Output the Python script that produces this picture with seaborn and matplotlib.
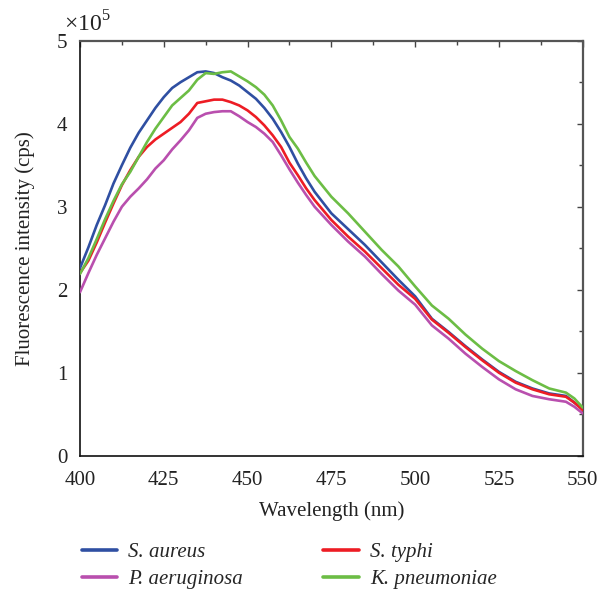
import numpy as np
import pandas as pd
import matplotlib
matplotlib.use("Agg")
import matplotlib.pyplot as plt
import seaborn as sns
from matplotlib.ticker import MultipleLocator
from matplotlib.lines import Line2D

# wavelength (nm)
wavelength = [400, 402.5, 405, 407.5, 410, 412.5, 415, 417.5, 420, 422.5, 425, 427.5,
              430, 432.5, 435, 437.5, 440, 442.5, 445, 447.5, 450, 452.5, 455, 457.5,
              460, 462.5, 465, 467.5, 470, 475, 480, 485, 490, 495, 500, 505, 510, 515,
              520, 525, 530, 535, 540, 545, 547.5, 550]

# fluorescence intensity (x10^5 cps)
s_aureus = [2.26, 2.51, 2.78, 3.02, 3.28, 3.50, 3.71, 3.89, 4.04, 4.19, 4.32, 4.43,
            4.50, 4.56, 4.62, 4.63, 4.61, 4.56, 4.52, 4.46, 4.38, 4.30, 4.19, 4.06,
            3.90, 3.72, 3.52, 3.34, 3.18, 2.92, 2.73, 2.54, 2.33, 2.12, 1.92, 1.65,
            1.49, 1.32, 1.16, 1.01, 0.89, 0.81, 0.75, 0.72, 0.64, 0.56]
p_aeruginosa = [1.97, 2.20, 2.42, 2.62, 2.82, 3.00, 3.12, 3.22, 3.33, 3.46, 3.56, 3.69,
                3.80, 3.92, 4.07, 4.12, 4.14, 4.15, 4.15, 4.09, 4.02, 3.96, 3.88, 3.78,
                3.62, 3.45, 3.29, 3.14, 3.00, 2.78, 2.58, 2.40, 2.19, 1.99, 1.82, 1.57,
                1.41, 1.23, 1.07, 0.92, 0.80, 0.72, 0.68, 0.65, 0.59, 0.51]
s_typhi = [2.20, 2.35, 2.57, 2.81, 3.04, 3.26, 3.44, 3.60, 3.72, 3.81, 3.88, 3.95,
           4.02, 4.12, 4.25, 4.27, 4.29, 4.29, 4.26, 4.22, 4.16, 4.08, 3.98, 3.86,
           3.72, 3.53, 3.38, 3.22, 3.08, 2.84, 2.64, 2.46, 2.26, 2.06, 1.89, 1.64,
           1.48, 1.31, 1.15, 1.00, 0.88, 0.80, 0.74, 0.71, 0.64, 0.55]
k_pneumoniae = [2.19, 2.38, 2.61, 2.85, 3.07, 3.27, 3.42, 3.60, 3.78, 3.94, 4.08, 4.22,
                4.31, 4.40, 4.53, 4.61, 4.60, 4.62, 4.63, 4.57, 4.51, 4.44, 4.35, 4.22,
                4.04, 3.84, 3.70, 3.53, 3.37, 3.12, 2.92, 2.70, 2.48, 2.28, 2.04, 1.81,
                1.65, 1.46, 1.29, 1.14, 1.02, 0.91, 0.81, 0.76, 0.69, 0.58]

series_names = ["S. aureus", "P. aeruginosa", "S. typhi", "K. pneumoniae"]
series_values = [s_aureus, p_aeruginosa, s_typhi, k_pneumoniae]
colors = ["#2f4fa2", "#b94fae", "#ed1c24", "#6cbd45"]

x_ticks = [400, 425, 450, 475, 500, 525, 550]
y_ticks = [0, 1, 2, 3, 4, 5]

frames = []
for name, vals in zip(series_names, series_values):
    frames.append(pd.DataFrame({"Wavelength": wavelength, "Intensity": vals, "Strain": name}))
df = pd.concat(frames, ignore_index=True)

sns.set_theme(style="white")
plt.rcParams["font.family"] = ["Liberation Serif", "DejaVu Serif"]
plt.rcParams["mathtext.fontset"] = "custom"
plt.rcParams["mathtext.rm"] = "Liberation Serif"

FS = 15

fig = plt.figure(figsize=(6.0, 5.89), dpi=100)
ax = fig.add_axes([80 / 600, 1 - 455.7 / 589, (582.7 - 80) / 600, (455.7 - 40.7) / 589])

sns.lineplot(data=df, x="Wavelength", y="Intensity", hue="Strain",
             hue_order=series_names, palette=colors, linewidth=1.9,
             legend=False, ax=ax, zorder=3)

ax.set_xlim(400, 550)
ax.set_ylim(0, 5)
ax.set_xticks(x_ticks)
ax.set_yticks(y_ticks)
ax.xaxis.set_minor_locator(MultipleLocator(12.5))
ax.yaxis.set_minor_locator(MultipleLocator(0.5))

for side in ["left", "bottom"]:
    ax.spines[side].set_color("#111111")
    ax.spines[side].set_linewidth(1.2)
for side in ["top", "right"]:
    ax.spines[side].set_color("#555555")
    ax.spines[side].set_linewidth(1.6)

ax.tick_params(axis="both", which="both", direction="out", colors="#111111",
               labelcolor="#222222", labelsize=FS, top=False, right=False)
ax.tick_params(which="major", length=5, width=1.1)
ax.tick_params(which="minor", length=3.5, width=1.0)
ax.tick_params(axis="x", pad=6)
ax.tick_params(axis="y", pad=4)

# inward ticks on top and right
sec_x = ax.secondary_xaxis("top")
sec_x.set_xticks(x_ticks)
sec_x.xaxis.set_minor_locator(MultipleLocator(12.5))
sec_x.tick_params(which="both", direction="in", labeltop=False, colors="#444444")
sec_x.tick_params(which="major", length=4, width=1.0)
sec_x.tick_params(which="minor", length=3, width=1.0)
sec_x.spines["top"].set_visible(False)
sec_y = ax.secondary_yaxis("right")
sec_y.set_yticks(y_ticks)
sec_y.yaxis.set_minor_locator(MultipleLocator(0.5))
sec_y.tick_params(which="both", direction="in", labelright=False, colors="#444444")
sec_y.tick_params(which="major", length=4, width=1.0)
sec_y.tick_params(which="minor", length=3, width=1.0)
sec_y.spines["right"].set_visible(False)

ax.set_xlabel("Wavelength (nm)", fontsize=FS, color="#222222", labelpad=8)
ax.set_ylabel("Fluorescence intensity (cps)", fontsize=FS, color="#222222", labelpad=16)
ax.text(-0.032, 1.04, r"$\times$10$^{5}$", transform=ax.transAxes, fontsize=FS + 2,
        color="#222222", ha="left", va="center")

handles = [Line2D([0], [0], color=c, lw=2.6) for c in colors]
leg = fig.legend(handles, series_names, loc="upper left", bbox_to_anchor=(0.122, 0.093),
                 ncol=2, frameon=False, prop={"style": "italic", "size": FS},
                 handlelength=1.7, handletextpad=0.55, columnspacing=3.85,
                 labelspacing=0.36, borderaxespad=0)

fig.savefig("out.png", dpi=100)
